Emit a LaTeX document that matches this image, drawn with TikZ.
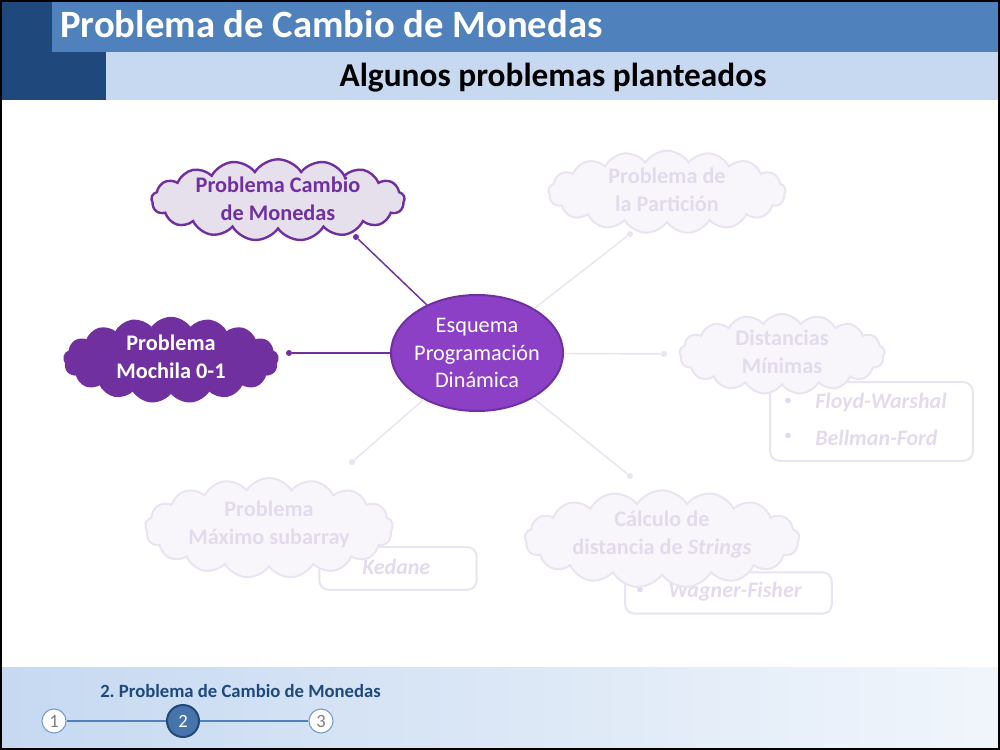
\documentclass[tikz,border=0pt]{standalone}
\usepackage{fontspec}
\setmainfont{Carlito}
\usetikzlibrary{shapes.geometric,shapes.symbols}
\definecolor{azultitulo}{HTML}{4F81BD}
\definecolor{azuloscuro}{HTML}{1F497D}
\definecolor{azulclaro}{HTML}{C6D9F1}
\definecolor{morado}{HTML}{7030A0}
\definecolor{moradomedio}{HTML}{8B40C6}
\definecolor{lila}{HTML}{E6E0EC}
\definecolor{tenue}{HTML}{EAE3F2}
\definecolor{tenuefondo}{HTML}{F8F6FB}
\definecolor{tenuetexto}{HTML}{E4DAEE}
\begin{document}
\frenchspacing
\begin{tikzpicture}[x=0.75pt,y=-0.75pt,
    nube/.style={cloud, cloud puffs=17, cloud puff arc=115, cloud ignores aspect,
      inner sep=0pt, line width=1.8pt},
    nubetenue/.style={nube, draw=tenue, fill=tenuefondo, line width=1.5pt},
    textonube/.style={align=center, inner sep=0pt, font=\bfseries\fontsize{16.7}{21}\selectfont},
    caja/.style={draw=tenue, line width=1.5pt, rounded corners=7pt, fill=white},
    item/.style={anchor=west, inner sep=0pt, text=tenuetexto,
      font=\bfseries\itshape\fontsize{16.5}{19}\selectfont},
    vineta/.style={text=tenuetexto, font=\fontsize{12}{14}\selectfont},
    punto/.style={circle, fill, inner sep=0pt, minimum size=4.5pt},
    paso/.style={circle, draw=azultitulo!80, fill=white, text=gray, line width=0.8pt,
      inner sep=0pt, minimum size=18pt, font=\fontsize{14}{16}\selectfont}]

  \useasboundingbox (0,0) rectangle (1000,750);

  \fill[azultitulo] (0,0) rectangle (1000,52);
  \fill[azuloscuro] (0,0) rectangle (52,52);
  \fill[azulclaro] (0,52) rectangle (1000,100);
  \fill[azuloscuro] (0,52) rectangle (106,100);
  \shade[left color=azulclaro, right color=azulclaro!25] (0,667) rectangle (1000,750);

  \node[anchor=base west, inner sep=0pt, text=white, font=\bfseries\fontsize{29}{35}\selectfont]
    (titulo) at (60,37) {Problema de Cambio de Monedas};
  \node[anchor=base, inner sep=0pt, font=\bfseries\fontsize{25}{30}\selectfont] (subtitulo)
    at (553,86) {Algunos problemas planteados};

  \node[anchor=base west, inner sep=0pt, text=azuloscuro, font=\bfseries\fontsize{14}{17}\selectfont]
    (seccion) at (100,697) {2. Problema de Cambio de Monedas};
  \node[paso] (c1) at (54,721) {1};
  \node[paso, draw=azuloscuro, fill=azultitulo!90!black, text=white, line width=1.5pt,
    minimum size=24pt] (c2) at (183,721) {2};
  \node[paso] (c3) at (321,721) {3};
  \draw[azultitulo, line width=0.8pt] (c1) -- (c2);
  \draw[azultitulo, line width=0.8pt] (c2) -- (c3);

  \node[caja, minimum width=152pt, minimum height=59pt] (cajaDist) at (871.5,421.5) {};
  \node[vineta] (v1) at (788,402) {\textbullet};
  \node[item] (floyd) at (815,403) {Floyd-Warshal};
  \node[vineta] (v2) at (788,437) {\textbullet};
  \node[item] (bellman) at (815,438) {Bellman-Ford};

  \node[caja, minimum width=118pt, minimum height=32pt] (cajaMax) at (398,568.5) {};
  \node[vineta] (v3) at (333,566) {\textbullet};
  \node[item] (kedane) at (362,567) {Kedane};

  \node[caja, minimum width=155pt, minimum height=31pt] (cajaCalc) at (728.5,593) {};
  \node[vineta] (v4) at (640,591) {\textbullet};
  \node[item] (wagner) at (668,592) {Wagner-Fisher};

  \node[nube, draw=morado, fill=lila, minimum width=190pt, minimum height=61pt]
    (cambio) at (278,200) {};
  \node[textonube, text=morado] (tCambio) at ([yshift=0.8]cambio) {Problema Cambio\\de Monedas};
  \node[nube, draw=morado, fill=morado, minimum width=160pt, minimum height=63pt]
    (mochila) at (171,360) {};
  \node[textonube, text=white] (tMochila) at ([yshift=2.5]mochila) {Problema\\Mochila 0-1};
  \node[nubetenue, minimum width=178pt, minimum height=62pt]
    (particion) at (667,192) {};
  \node[textonube, text=tenuetexto] (tParticion) at ([yshift=1.7]particion) {Problema de\\la Partición};
  \node[nubetenue, minimum width=154pt, minimum height=60pt]
    (distancias) at (782,354) {};
  \node[textonube, text=tenuetexto] (tDistancias) at ([yshift=2]distancias) {Distancias\\Mínimas};
  \node[nubetenue, minimum width=186pt, minimum height=75pt]
    (maximo) at (269,528) {};
  \node[textonube, text=tenuetexto] (tMaximo) at ([yshift=3]maximo) {Problema\\Máximo subarray};
  \node[nubetenue, minimum width=206pt, minimum height=73pt]
    (calculo) at (662,539) {};
  \node[textonube, text=tenuetexto] (tCalculo) at ([yshift=3.4]calculo)
    {Cálculo de\\distancia de \textit{Strings}};

  \node[ellipse, draw=morado, fill=moradomedio, line width=1.5pt,
    minimum width=129pt, minimum height=87pt] (esquema) at (477,353) {};
  \node[align=center, inner sep=0pt, text=white, font=\fontsize{16.7}{20.5}\selectfont]
    (tEsquema) at (esquema) {Esquema\\Programación\\Dinámica};

  \node[punto, morado] (pCambio) at (356,237) {};
  \node[punto, morado] (pMochila) at (289,353) {};
  \node[punto, tenue] (pParticion) at (630,234) {};
  \node[punto, tenue] (pDistancias) at (664,354) {};
  \node[punto, tenue] (pMaximo) at (352,462) {};
  \node[punto, tenue] (pCalculo) at (630,476) {};

  \begin{scope}[line width=1.1pt]
    \path (esquema) edge[morado] (pCambio);
    \path (esquema) edge[morado] (pMochila);
    \path (esquema) edge[tenue] (pParticion);
    \path (esquema) edge[tenue] (pDistancias);
    \path (esquema) edge[tenue] (pMaximo);
    \path (esquema) edge[tenue] (pCalculo);
  \end{scope}

  \draw[black, line width=1.5pt] (1,1) rectangle (999,749);

\end{tikzpicture}
\end{document}
